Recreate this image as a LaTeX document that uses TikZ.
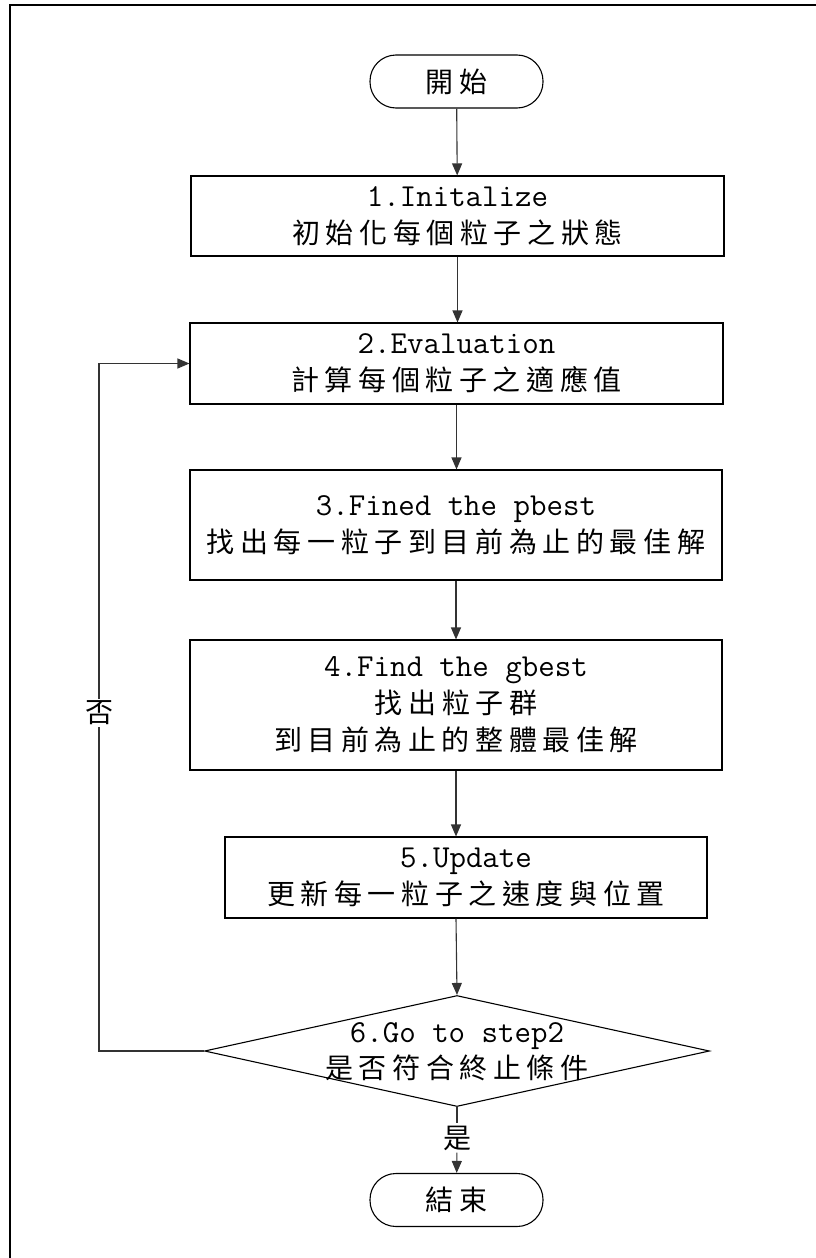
\documentclass[tikz,border=0pt]{standalone}
\usepackage{fontspec}
\newfontfamily\cjk[LetterSpace=20]{Noto Sans CJK TC}
\usetikzlibrary{shapes.geometric,arrows.meta}
\newcommand\latn{\ttfamily\fontsize{32}{37}\selectfont}
\tikzset{
  proc/.style={draw=black, line width=1.1pt, rectangle, inner sep=0pt, align=center,
    font=\fontsize{28}{37}\selectfont},
  term/.style={draw=black, line width=1.1pt, rectangle, rounded corners=26pt, inner sep=0pt,
    minimum width=173pt, minimum height=53pt, font=\fontsize{28}{37}\selectfont\cjk},
  decision/.style={draw=black, line width=1.1pt, diamond, inner sep=0pt,
    minimum width=505pt, minimum height=111pt},
  dtext/.style={align=center, inner sep=0pt, font=\fontsize{28}{36}\selectfont},
  conn/.style={line width=1.1pt, draw=black!80, -{Triangle[length=12pt,width=10pt]}},
  line/.style={line width=1.1pt, draw=black!80},
  lbl/.style={fill=white, inner sep=2pt, font=\fontsize{28}{30}\selectfont\cjk},
}
\begin{document}
\begin{tikzpicture}[x=1pt,y=-1pt]
\useasboundingbox (0,0) rectangle (816,1258);
\draw[line width=2pt] (10,5) rectangle (840,1300);

\node[term] (start) at (456.5,81.5) {開始};
\node[proc, minimum width=533pt, minimum height=80pt] (s1) at (457.5,216)
  {{\latn 1.Initalize}\\{\cjk 初始化每個粒子之狀態}};
\node[proc, minimum width=533pt, minimum height=81pt] (s2) at (456.5,363.5)
  {{\latn 2.Evaluation}\\{\cjk 計算每個粒子之適應值}};
\node[proc, minimum width=532pt, minimum height=110pt] (s3) at (456,525)
  {{\latn 3.Fined the pbest}\\{\cjk 找出每一粒子到目前為止的最佳解}};
\node[proc, minimum width=532pt, minimum height=130pt] (s4) at (456,705)
  {{\latn 4.Find the gbest}\\{\cjk 找出粒子群}\\{\cjk 到目前為止的整體最佳解}};
\node[proc, minimum width=482pt, minimum height=81pt] (s5) at (466,877.5)
  {{\latn 5.Update}\\{\cjk 更新每一粒子之速度與位置}};
\node[decision] (s6) at (457,1051) {};
\node[dtext] (s6t) at (457,1052) {{\latn 6.Go to step2}\\{\cjk 是否符合終止條件}};
\node[term] (stop) at (456.5,1200) {結束};

\coordinate (loopb) at (99,1051);
\coordinate (loopt) at (99,363.5);
\node[lbl] (no) at (99,713) {否};
\node[lbl] (yes) at (457,1138) {是};

\draw[conn] (start) -- (s1);
\draw[conn] (s1) -- (s1.south |- s2.north);
\draw[conn] (s2.south) -- (s2.south |- s3.north);
\draw[conn] (s3.south) -- (s3.south |- s4.north);
\draw[conn] (s4.south) -- (s4.south |- s5.north);
\draw[conn] (s4.south |- s5.south) -- (s6.north);
\draw[line] (s6.west) -- (loopb) -- (no);
\draw[conn] (no) -- (loopt) -- (s2.west);
\draw[line] (s6.south) -- (yes);
\draw[conn] (yes) -- (stop);
\end{tikzpicture}
\end{document}
